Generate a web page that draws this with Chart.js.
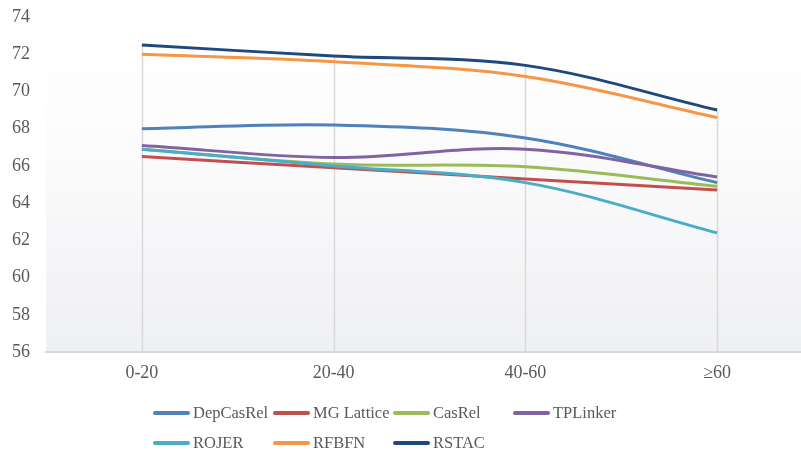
<!DOCTYPE html>
<html>
<head>
<meta charset="utf-8">
<script src="https://cdn.jsdelivr.net/npm/chart.js@4/dist/chart.umd.min.js"></script>
<style>
  html, body { margin: 0; padding: 0; background: #fff; overflow: hidden; }
  #wrap { position: relative; width: 801px; height: 455px; overflow: hidden; }
  #box { position: absolute; left: 0; top: 0; width: 814px; height: 455px; }
  #legend {
    position: absolute; left: 153px; top: 398px;
    display: grid; grid-template-columns: repeat(4, 120px); grid-auto-rows: 30px;
    font-family: "Liberation Serif", "Times New Roman", serif; font-size: 16.5px; color: #595959;
  }
  .item { display: flex; align-items: center; white-space: nowrap; }
  .swatch { width: 37px; height: 3.5px; border-radius: 2px; margin-right: 3px; }
</style>
</head>
<body>
<div id="wrap">
  <div id="box"><canvas id="chart" width="814" height="455"></canvas></div>
  <div id="legend"></div>
</div>
<script>
// Sentence-length buckets and F1 scores per model
const categories = ['0-20', '20-40', '40-60', '≥60'];
const yTicks = [56, 58, 60, 62, 64, 66, 68, 70, 72, 74];

const depCasRel = [68.0, 68.2, 67.5, 65.1];
const mgLattice = [66.5, 65.9, 65.3, 64.7];
const casRel    = [66.9, 66.1, 65.95, 64.9];
const tpLinker  = [67.1, 66.45, 66.9, 65.4];
const rojer     = [66.9, 66.0, 65.1, 62.4];
const rfbfn     = [72.0, 71.6, 70.8, 68.6];
const rstac     = [72.5, 71.9, 71.4, 69.0];

const seriesNames = ['DepCasRel', 'MG Lattice', 'CasRel', 'TPLinker', 'ROJER', 'RFBFN', 'RSTAC'];
const seriesValues = [depCasRel, mgLattice, casRel, tpLinker, rojer, rfbfn, rstac];
const seriesColors = ['#4F81BD', '#C0504D', '#9BBB59', '#8064A2', '#4BACC6', '#F79646', '#1F497D'];

const datasets = seriesNames.map((name, i) => ({
  label: name,
  data: seriesValues[i],
  borderColor: seriesColors[i],
  backgroundColor: seriesColors[i],
  borderWidth: 3,
  pointRadius: 0,
  tension: 0.35,
  fill: false,
  order: seriesNames.length - i   // later series drawn on top
}));

// Soft vertical gradient behind the plot area
const plotBackground = {
  id: 'plotBackground',
  beforeDraw(chart) {
    const { ctx, chartArea: a } = chart;
    const g = ctx.createLinearGradient(0, a.top, 0, a.bottom);
    g.addColorStop(0, '#ffffff');
    g.addColorStop(0.3, '#fdfdfe');
    g.addColorStop(1, '#eff0f2');
    ctx.save();
    ctx.fillStyle = g;
    ctx.fillRect(a.left, a.top, a.right - a.left, a.bottom - a.top);
    ctx.restore();
  }
};

// Drop lines from the highest point of each category down to the axis
const dropLines = {
  id: 'dropLines',
  beforeDatasetsDraw(chart) {
    const { ctx, scales: { x, y } } = chart;
    ctx.save();
    ctx.strokeStyle = '#d9d9d9';
    ctx.lineWidth = 1.5;
    categories.forEach((c, i) => {
      const top = Math.max(...chart.data.datasets.map(d => d.data[i]));
      const px = Math.round(x.getPixelForValue(i)) + 0.5;
      ctx.beginPath();
      ctx.moveTo(px, y.getPixelForValue(top));
      ctx.lineTo(px, y.bottom);
      ctx.stroke();
    });
    ctx.restore();
  }
};

const tickFont = { family: '"Liberation Serif", "Times New Roman", serif', size: 18 };

const chart = new Chart(document.getElementById('chart'), {
  type: 'line',
  data: { labels: categories, datasets },
  plugins: [plotBackground, dropLines],
  options: {
    responsive: false,
    devicePixelRatio: 1,
    animation: false,
    layout: { padding: { top: 17, right: 1, bottom: 0, left: 0 } },
    plugins: { legend: { display: false }, tooltip: { enabled: false } },
    scales: {
      x: {
        offset: true,
        grid: { display: false, drawTicks: false },
        border: { display: true, color: '#d9d9d9', width: 2 },
        ticks: { color: '#595959', font: tickFont, padding: 10 },
        afterFit(scale) { scale.height = 103; }
      },
      y: {
        min: 56, max: 74,
        afterBuildTicks(scale) { scale.ticks = yTicks.map(v => ({ value: v })); },
        grid: { display: false, drawTicks: false },
        border: { display: false },
        ticks: { color: '#595959', font: tickFont, padding: 16 },
        afterFit(scale) {
          scale.width = 46;
          scale.paddingTop = 0;
          scale.paddingBottom = 0;
        }
      }
    }
  }
});

// Legend laid out in fixed columns
const legendEl = document.getElementById('legend');
chart.data.datasets.forEach(ds => {
  const item = document.createElement('div');
  item.className = 'item';
  const sw = document.createElement('span');
  sw.className = 'swatch';
  sw.style.background = ds.borderColor;
  const tx = document.createElement('span');
  tx.textContent = ds.label;
  item.appendChild(sw);
  item.appendChild(tx);
  legendEl.appendChild(item);
});
</script>
</body>
</html>
